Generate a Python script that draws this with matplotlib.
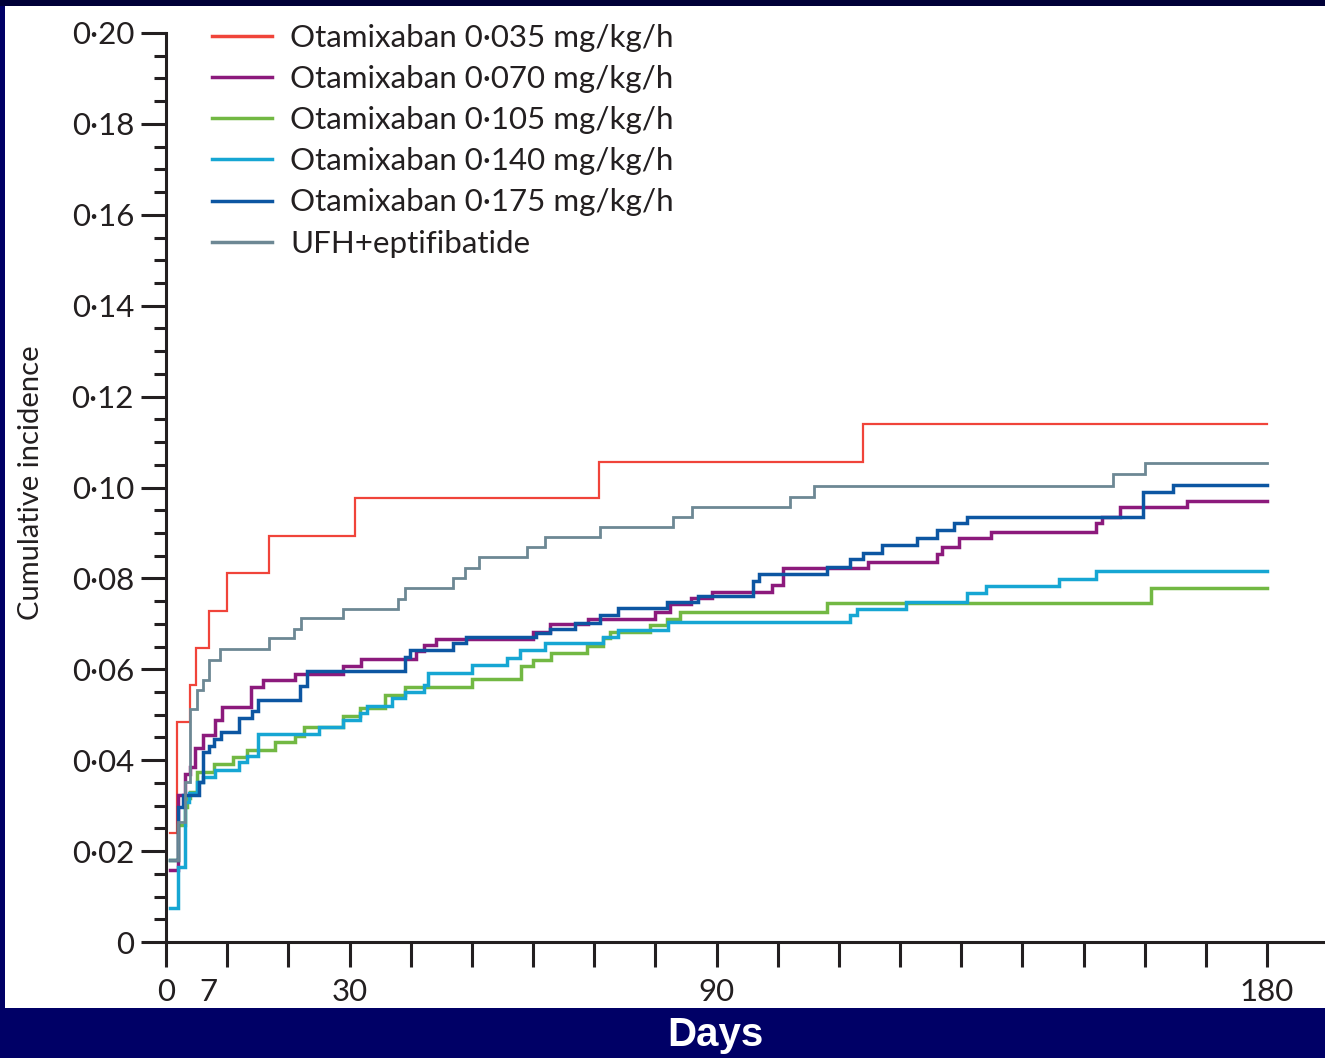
import matplotlib
matplotlib.use("Agg")
import matplotlib.pyplot as plt
from matplotlib.patches import Rectangle
from matplotlib.ticker import MultipleLocator

# step curves (day of step, value after step)
red_days = [0.6, 1.85, 4.0, 4.9, 7.1, 9.9, 16.9, 30.9, 70.8, 114.0]
red_vals = [0.024, 0.0484, 0.0565, 0.0647, 0.0729, 0.0811, 0.0893, 0.0976, 0.1056, 0.114]

purple_days = [0.6, 2.0, 3.1, 3.9, 4.7, 6.0, 8.0, 9.1, 13.9, 15.9,
               21.1, 29.0, 31.8, 40.9, 42.1, 44.1, 60.0, 62.8, 69.0, 79.9,
               82.4, 85.9, 89.2, 99.0, 100.9, 114.8, 126.1, 126.8, 129.7, 134.9,
               152.0, 153.1, 156.0, 167.0]
purple_vals = [0.0158, 0.0324, 0.0369, 0.0385, 0.0427, 0.0456, 0.0488, 0.0518, 0.0561, 0.0576,
               0.059, 0.0607, 0.0622, 0.064, 0.0653, 0.0667, 0.0683, 0.0699, 0.071, 0.0725,
               0.0744, 0.0756, 0.0769, 0.0785, 0.0822, 0.0837, 0.0853, 0.087, 0.0888, 0.0901,
               0.0921, 0.0936, 0.0956, 0.0971]

green_days = [0.6, 2.0, 3.1, 3.4, 3.9, 5.0, 7.9, 11.0, 13.3, 17.8,
              21.1, 22.6, 29.0, 31.7, 35.8, 39.1, 50.1, 58.1, 60.0, 62.9,
              68.8, 71.5, 72.6, 79.1, 81.9, 84.0, 108.0, 161.1]
green_vals = [0.0181, 0.0257, 0.0297, 0.0317, 0.033, 0.0375, 0.0391, 0.0408, 0.0422, 0.0439,
              0.0453, 0.0472, 0.0497, 0.0514, 0.0543, 0.0562, 0.0578, 0.0607, 0.062, 0.0636,
              0.0652, 0.0668, 0.0683, 0.0697, 0.071, 0.0727, 0.0745, 0.0778]

cyan_days = [0.6, 2.0, 3.1, 3.8, 5.0, 6.0, 8.0, 12.0, 13.2, 15.1,
             25.0, 29.0, 31.7, 32.8, 36.9, 39.1, 42.1, 42.9, 50.0, 55.7,
             57.9, 62.0, 71.5, 73.9, 82.1, 111.8, 112.9, 121.0, 130.9, 134.1,
             146.0, 152.0]
cyan_vals = [0.0075, 0.0166, 0.0308, 0.0328, 0.0352, 0.0363, 0.0379, 0.0395, 0.041, 0.0458,
             0.0473, 0.0488, 0.0503, 0.0519, 0.0536, 0.0551, 0.0565, 0.0591, 0.0609, 0.0624,
             0.0642, 0.0657, 0.0672, 0.0686, 0.0703, 0.0719, 0.0733, 0.0749, 0.0768, 0.0784,
             0.0799, 0.0817]

blue_days = [0.6, 2.0, 2.8, 5.4, 6.0, 7.1, 7.9, 9.0, 11.9, 14.0,
             15.1, 21.9, 23.0, 39.0, 39.9, 47.0, 49.0, 60.5, 62.8, 66.9,
             71.0, 73.9, 81.9, 87.0, 96.0, 97.0, 108.0, 111.8, 114.0, 117.0,
             122.8, 126.0, 128.8, 130.9, 159.8, 164.7]
blue_vals = [0.018, 0.0298, 0.0324, 0.0353, 0.0419, 0.0432, 0.0446, 0.0463, 0.0492, 0.0508,
             0.0532, 0.0564, 0.0597, 0.0628, 0.0642, 0.0657, 0.0672, 0.0679, 0.0688, 0.0702,
             0.0719, 0.0734, 0.0749, 0.0761, 0.0795, 0.081, 0.0826, 0.0842, 0.0855, 0.0873,
             0.0888, 0.0906, 0.0921, 0.0936, 0.0991, 0.1005]

gray_days = [0.6, 2.0, 3.1, 3.9, 5.0, 6.0, 7.0, 8.9, 16.9, 21.0,
             22.0, 29.0, 38.0, 39.0, 47.0, 48.9, 51.1, 59.0, 62.0, 71.0,
             82.9, 86.0, 102.0, 106.0, 154.9, 160.0]
gray_vals = [0.018, 0.0265, 0.0353, 0.0513, 0.0554, 0.0577, 0.0621, 0.0645, 0.0668, 0.0689,
             0.0712, 0.0733, 0.0755, 0.0778, 0.0801, 0.0823, 0.0847, 0.0869, 0.0892, 0.0913,
             0.0935, 0.0956, 0.098, 0.1004, 0.1029, 0.1053]

labels = ["Otamixaban 0\u00b7035 mg/kg/h", "Otamixaban 0\u00b7070 mg/kg/h",
          "Otamixaban 0\u00b7105 mg/kg/h", "Otamixaban 0\u00b7140 mg/kg/h",
          "Otamixaban 0\u00b7175 mg/kg/h", "UFH+eptifibatide"]
y_ticks = [0, 0.02, 0.04, 0.06, 0.08, 0.10, 0.12, 0.14, 0.16, 0.18, 0.20]
y_ticklabels = ["0", "0\u00b702", "0\u00b704", "0\u00b706", "0\u00b708", "0\u00b710",
                "0\u00b712", "0\u00b714", "0\u00b716", "0\u00b718", "0\u00b720"]
x_labelled = [0, 7, 30, 90, 180]
end_day = 180

series = [
    (red_days, red_vals, "#f0443a", 1.6),
    (purple_days, purple_vals, "#8c1a7c", 2.5),
    (green_days, green_vals, "#72b843", 2.5),
    (cyan_days, cyan_vals, "#16a6d3", 2.5),
    (blue_days, blue_vals, "#0c56a2", 2.5),
    (gray_days, gray_vals, "#6d8894", 2.0),
]

fam = ["Lato", "DejaVu Sans"]
ink = "#231f20"
fs = 22.5

fig = plt.figure(figsize=(13.25, 10.58), dpi=100, facecolor="#000066")
W, H = 1325, 1058
fig.patches.append(Rectangle((5 / W, 1 - 1008 / H), 1, (1008 - 6) / H,
                             transform=fig.transFigure, facecolor="white",
                             edgecolor="none", zorder=-10))
fig.patches.append(Rectangle((0, 1 - 6 / H), 1, 6 / H, transform=fig.transFigure,
                             facecolor="#000038", edgecolor="none", zorder=-10))

ax = fig.add_axes([166 / W, 1 - 942 / H, (W - 166) / W, (942 - 33) / H])
ax.set_facecolor("none")

for (d, v, c, lw), lab in zip(series, labels):
    ax.step(d + [end_day], v + [v[-1]], where="post", color=c, lw=lw,
            label=lab, solid_joinstyle="miter")

ax.set_xlim(0, (W - 166) / (1267 - 166) * 180)
ax.set_ylim(0, 0.20)

for s in ["top", "right"]:
    ax.spines[s].set_visible(False)
for s in ["left", "bottom"]:
    ax.spines[s].set_linewidth(2.2)
    ax.spines[s].set_color(ink)
ax.spines["left"].set_bounds(0, 0.20)

ax.set_yticks(y_ticks)
ax.set_yticklabels(y_ticklabels, family=fam, fontsize=fs, color=ink)
ax.yaxis.set_minor_locator(MultipleLocator(0.005))
ax.tick_params(axis="y", which="major", length=18, width=2.2, color=ink, pad=5)
ax.tick_params(axis="y", which="minor", length=9, width=2.2, color=ink)

ax.xaxis.remove_overlapping_locs = False
ax.set_xticks(x_labelled)
ax.set_xticklabels([str(v) for v in x_labelled], family=fam, fontsize=fs, color=ink)
ax.set_xticks(list(range(0, 181, 10)), minor=True)
ax.tick_params(axis="x", which="major", length=0, pad=26)
ax.tick_params(axis="x", which="minor", length=18, width=2.2, color=ink)

ax.set_ylabel("Cumulative incidence", family=fam, fontsize=21, color=ink)
ax.yaxis.set_label_coords(-122 / (W - 166), 0.505)

leg = ax.legend(loc="upper left", bbox_to_anchor=(212 / W, 1 - 24 / H),
                bbox_transform=fig.transFigure, frameon=False,
                prop={"family": fam, "size": fs}, handlelength=1.92,
                handletextpad=0.58, labelspacing=0.42, borderpad=0, borderaxespad=0)
for t in leg.get_texts():
    t.set_color(ink)
for h in leg.get_lines():
    h.set_linewidth(2.5)

fig.text(715 / W, 1 - 1035 / H, "Days", ha="center", va="center", color="white",
         fontsize=29, fontweight="bold", family=["Liberation Sans", "DejaVu Sans"])

fig.savefig("out.png", dpi=100, facecolor=fig.get_facecolor())
